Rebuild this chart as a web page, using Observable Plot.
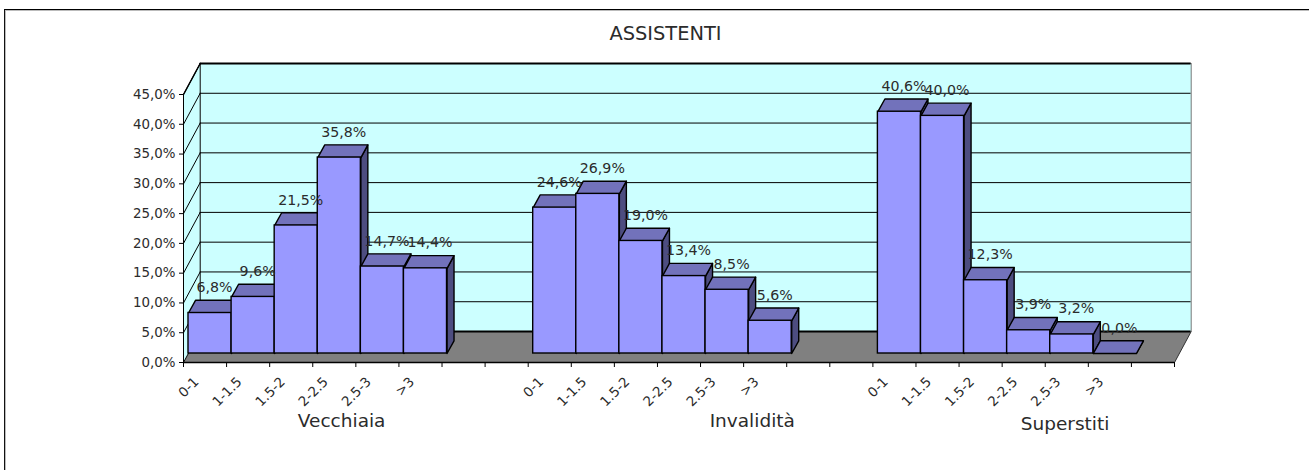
<!DOCTYPE html>
<html>
<head>
<meta charset="utf-8">
<script src="https://cdn.jsdelivr.net/npm/d3@7"></script>
<script src="https://cdn.jsdelivr.net/npm/@observablehq/plot@0.6"></script>
<style>
html,body{margin:0;padding:0;background:#fff;width:1309px;height:470px;overflow:hidden}
#frame{position:absolute;left:4px;top:9px;right:0;bottom:0;border-top:1px solid #000;border-left:1px solid #111;box-shadow:inset 1px 1px 0 #bbb}
#chart{position:absolute;left:0;top:0}
</style>
</head>
<body>
<div id="frame"></div>
<div id="chart"></div>
<script>
const chartTitle = "ASSISTENTI";
const groupNames = ["Vecchiaia", "Invalidità", "Superstiti"];
const categories = ["0-1", "1-1.5", "1.5-2", "2-2.5", "2.5-3", ">3"];
const yTicks = [0, 5, 10, 15, 20, 25, 30, 35, 40, 45];
const groupStarts = [0, 8, 16];
const slotCount = 23;

// bar heights as drawn in the picture
const vecchiaiaHeights = [6.8, 9.5, 21.5, 32.9, 14.6, 14.3];
const invaliditaHeights = [24.5, 26.8, 18.9, 13.0, 10.7, 5.5];
const superstitiHeights = [40.6, 39.9, 12.3, 3.9, 3.2, 0];
// data labels as printed in the picture
const vecchiaiaLabels = ["6,8%", "9,6%", "21,5%", "35,8%", "14,7%", "14,4%"];
const invaliditaLabels = ["24,6%", "26,9%", "19,0%", "13,4%", "8,5%", "5,6%"];
const superstitiLabels = ["40,6%", "40,0%", "12,3%", "3,9%", "3,2%", "0,0%"];

const heights = [vecchiaiaHeights, invaliditaHeights, superstitiHeights];
const labels = [vecchiaiaLabels, invaliditaLabels, superstitiLabels];

// oblique projection, in data units: one slot is 43.08 px, one percent 5.956 px
const pxX = 1309 - 183 - 135, slotPx = pxX / slotCount, pctPx = 268 / 45;
const wallX = 16.7 / slotPx, wallY = 31 / pctPx;
const barX = 5 / slotPx, barY = 9 / pctPx;
const depthX = 7 / slotPx, depthY = 12.7 / pctPx;

const bars = groupStarts.flatMap((start, g) => categories.map((cat, i) => ({
  slot: start + i, cat, value: heights[g][i], label: labels[g][i]
})));

const poly = (id, face, pts) => [...pts, pts[0]].map(([x, y]) => ({id, face, x, y}));

const walls = [
  ...poly("floor", "floor", [[0, 0], [slotCount, 0], [slotCount + wallX, wallY], [wallX, wallY]]),
  ...poly("back", "wall", [[wallX, wallY], [slotCount + wallX, wallY], [slotCount + wallX, 45 + wallY], [wallX, 45 + wallY]]),
  ...poly("left", "wall", [[0, 0], [wallX, wallY], [wallX, 45 + wallY], [0, 45]])
];

const faces = bars.flatMap((b, i) => {
  const x0 = b.slot + barX, x1 = x0 + 1, y0 = barY, y1 = b.value + barY;
  return [
    ...poly("s" + i, "side", [[x1, y0], [x1 + depthX, y0 + depthY], [x1 + depthX, y1 + depthY], [x1, y1]]),
    ...poly("t" + i, "top", [[x0, y1], [x1, y1], [x1 + depthX, y1 + depthY], [x0 + depthX, y1 + depthY]])
  ];
});

const tickRows = groupStarts.flatMap(start => categories.map((cat, i) => ({slot: start + i, cat})));
const font = "'DejaVu Sans', sans-serif";
const ink = "#2b2b2b";

const plot = Plot.plot({
  width: 1309,
  height: 470,
  marginTop: 94,
  marginBottom: 108,
  marginLeft: 183,
  marginRight: 135,
  style: {background: "transparent", fontFamily: font, color: ink, overflow: "visible"},
  x: {domain: [0, slotCount], axis: null},
  y: {domain: [0, 45], axis: null},
  color: {domain: ["wall", "floor", "side", "top"], range: ["#ccffff", "#808080", "#4d4d80", "#7272bb"]},
  marks: [
    Plot.line(walls, {x: "x", y: "y", z: "id", fill: "face", stroke: "none"}),
    // back wall gridlines
    Plot.ruleY(yTicks.slice(1), {y: t => t + wallY, x1: wallX, x2: slotCount + wallX, stroke: "#000", strokeWidth: 1, strokeOpacity: 1}),
    // side wall gridlines
    ...yTicks.slice(1).map(t => Plot.line([[0, t], [wallX, t + wallY]], {stroke: "#000", strokeWidth: 1})),
    // wall edges
    Plot.ruleY([wallY, 45 + wallY], {x1: wallX, x2: slotCount + wallX, stroke: "#000", strokeWidth: 2}),
    Plot.ruleX([0], {y1: 0, y2: 45, stroke: "#000", strokeWidth: 1}),
    Plot.ruleX([wallX], {y1: wallY, y2: 45 + wallY, stroke: "#000", strokeWidth: 1}),
    Plot.ruleX([slotCount + wallX], {y1: wallY, y2: 45 + wallY, stroke: "#777", strokeWidth: 1}),
    Plot.line([[0, 0], [wallX, wallY]], {stroke: "#000", strokeWidth: 1}),
    Plot.line([[0, 45], [wallX, 45 + wallY]], {stroke: "#000", strokeWidth: 1.5}),
    Plot.line([[slotCount, 0], [slotCount + wallX, wallY]], {stroke: "#333", strokeWidth: 1}),
    // bar depth faces, painted left to right
    Plot.line(faces, {x: "x", y: "y", z: "id", fill: "face", stroke: "#000", strokeWidth: 1.4, strokeLinejoin: "round"}),
    // bar fronts
    Plot.rect(bars, {x1: d => d.slot + barX, x2: d => d.slot + 1 + barX, y1: barY, y2: d => d.value + barY, fill: "#9999ff", stroke: "#000", strokeWidth: 1.4}),
    // floor front edge and axes
    Plot.ruleY([0], {x1: 0, x2: slotCount, stroke: "#000", strokeWidth: 1.5}),
    Plot.axisX({ticks: d3.range(0, slotCount + 1), tickSize: 5, tickFormat: () => "", label: null, stroke: "#000"}),
    Plot.axisY({ticks: yTicks, tickSize: 4, tickPadding: 4, tickFormat: d => d.toFixed(1).replace(".", ",") + "%", label: null, fontSize: 13.4, stroke: "#000", fill: ink}),
    // category tick labels
    Plot.text(tickRows, {x: "slot", y: 0, text: "cat", rotate: -45, textAnchor: "end", lineAnchor: "middle", dx: 13, dy: 17, fontSize: 13.5, fill: ink}),
    // data labels
    Plot.text(bars, {x: d => d.slot + 0.5, y: "value", text: "label", dx: 9.5, dy: -34.5, fontSize: 14.2, fill: ink}),
    // group captions and title
    Plot.text([groupNames[0]], {x: () => 3.67, y: () => 0, text: d => d, dy: 59, fontSize: 18.5, fill: ink}),
    Plot.text([groupNames[1]], {x: () => 13.2, y: () => 0, text: d => d, dy: 59, fontSize: 18.5, fill: ink}),
    Plot.text([groupNames[2]], {x: () => 20.46, y: () => 0, text: d => d, dy: 62, fontSize: 18.5, fill: ink}),
    Plot.text([chartTitle], {x: () => 11, y: () => 45, text: d => d, dx: 8, dy: -61, fontSize: 19.4, fill: ink})
  ]
});
document.getElementById("chart").appendChild(plot);
</script>
</body>
</html>
